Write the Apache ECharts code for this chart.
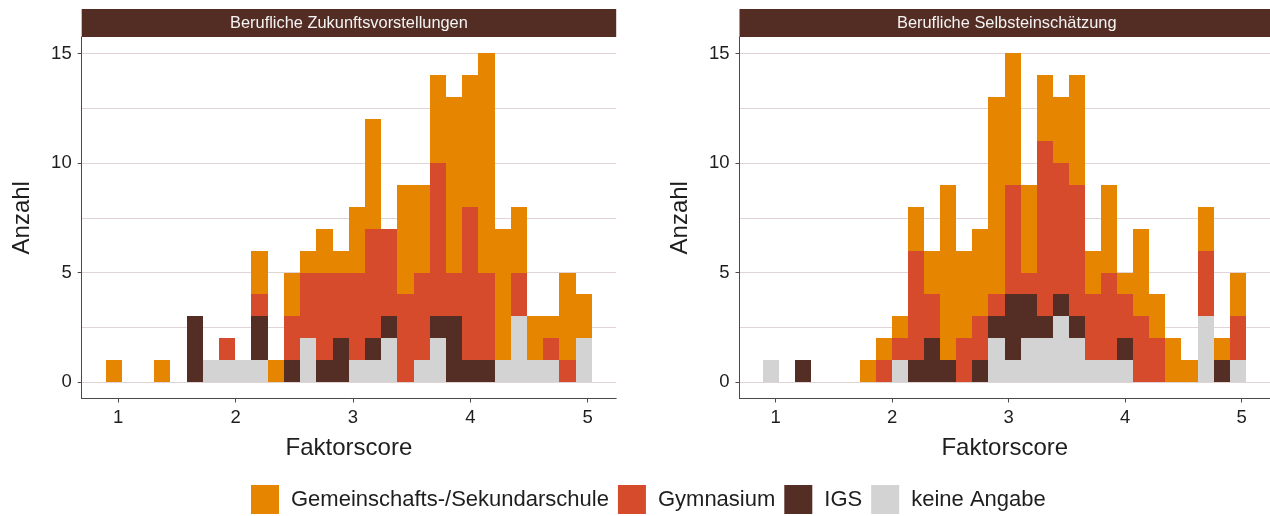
<!DOCTYPE html>
<html>
<head>
<meta charset="utf-8">
<script src="https://cdn.jsdelivr.net/npm/echarts@6/dist/echarts.min.js"></script>
<style>
  html, body { margin: 0; padding: 0; background: #ffffff; }
  #chart { width: 1270px; height: 516px; }
</style>
</head>
<body>
<div id="chart"></div>
<script>
// Shared histogram bins: 30 bins, same breaks in both panels
const binStart = 0.8925;
const binWidth = 0.1381;
const xTicks = [1, 2, 3, 4, 5];
const yTicks = [0, 5, 10, 15];
const gridValues = [0, 2.5, 5, 7.5, 10, 12.5, 15];

const schoolTypes = ['Gemeinschafts-/Sekundarschule', 'Gymnasium', 'IGS', 'keine Angabe'];
const panelTitles = ['Berufliche Zukunftsvorstellungen', 'Berufliche Selbsteinschätzung'];

// Counts per bin – Berufliche Zukunftsvorstellungen
const zukunftKeineAngabe = [0,0,0,0,0,0,1,1,1,1,0,0,2,0,0,1,1,2,0,1,2,0,0,0,1,3,1,1,0,2];
const zukunftIGS         = [0,0,0,0,0,3,0,0,0,2,0,1,0,1,2,0,1,1,0,0,1,3,1,1,0,0,0,0,0,0];
const zukunftGymnasium   = [0,0,0,0,0,0,0,1,0,1,0,2,3,4,3,4,5,4,4,4,7,2,7,4,0,2,0,1,1,0];
const zukunftGemSek      = [1,0,0,1,0,0,0,0,0,2,1,2,1,2,1,3,5,0,5,4,4,8,6,10,6,3,2,1,4,2];

// Counts per bin – Berufliche Selbsteinschätzung
const selbstKeineAngabe  = [1,0,0,0,0,0,0,0,1,0,0,0,0,0,2,1,2,2,3,2,1,1,1,0,0,0,0,3,0,1];
const selbstIGS          = [0,0,1,0,0,0,0,0,0,1,2,1,0,1,1,3,2,1,1,1,0,0,1,0,0,0,0,0,1,0];
const selbstGymnasium    = [0,0,0,0,0,0,0,1,1,5,2,0,2,2,1,5,1,8,6,6,3,4,2,3,2,0,0,3,0,2];
const selbstGemSek       = [0,0,0,0,0,0,1,1,1,2,2,8,4,4,9,6,4,3,3,5,2,4,1,4,2,2,1,2,1,2];

const colors = {
  'Gemeinschafts-/Sekundarschule': '#E68600',
  'Gymnasium': '#D64B2B',
  'IGS': '#542D24',
  'keine Angabe': '#D3D3D3'
};

// stacking order from the baseline upwards
const panels = [
  { 'keine Angabe': zukunftKeineAngabe, 'IGS': zukunftIGS, 'Gymnasium': zukunftGymnasium, 'Gemeinschafts-/Sekundarschule': zukunftGemSek },
  { 'keine Angabe': selbstKeineAngabe, 'IGS': selbstIGS, 'Gymnasium': selbstGymnasium, 'Gemeinschafts-/Sekundarschule': selbstGemSek }
];
const stackOrder = ['keine Angabe', 'IGS', 'Gymnasium', 'Gemeinschafts-/Sekundarschule'];

const gridLefts = [81.7, 739.5];
const gridWidth = 534.5;
const gridTop = 37;
const gridHeight = 361.5;
const xMin = 0.689, xMax = 5.243;
const yMin = -0.75, yMax = 15.75;

// one rectangle per stacked segment, snapped to whole pixels so neighbouring bins meet without seams
function renderBar(params, api) {
  const p0 = api.coord([api.value(0), api.value(3)]);
  const p1 = api.coord([api.value(1), api.value(2)]);
  const x0 = Math.round(p0[0]), x1 = Math.round(p1[0]);
  const y0 = Math.round(p0[1]), y1 = Math.round(p1[1]);
  return {
    type: 'rect',
    shape: { x: x0, y: y0, width: x1 - x0, height: y1 - y0 },
    style: { fill: api.visual('color') }
  };
}

const series = [];
panels.forEach(function (panel, pi) {
  // horizontal grid lines behind the bars
  series.push({
    type: 'line',
    xAxisIndex: pi, yAxisIndex: pi,
    data: [],
    z: 0,
    silent: true,
    markLine: {
      z: 0,
      silent: true,
      symbol: ['none', 'none'],
      label: { show: false },
      lineStyle: { color: '#E2D4D4', width: 1.2, type: 'solid' },
      emphasis: { disabled: true },
      animation: false,
      data: gridValues.map(function (v) { return { yAxis: v }; })
    }
  });
  const base = new Array(30).fill(0);
  stackOrder.forEach(function (name) {
    const counts = panel[name];
    const data = [];
    counts.forEach(function (c, k) {
      if (c > 0) {
        const x0 = binStart + k * binWidth;
        data.push([x0, x0 + binWidth, base[k], base[k] + c]);
      }
      base[k] += c;
    });
    series.push({
      type: 'custom',
      name: name,
      xAxisIndex: pi, yAxisIndex: pi,
      z: 3,
      renderItem: renderBar,
      itemStyle: { color: colors[name] },
      encode: { x: [0, 1], y: [2, 3] },
      data: data
    });
  });
});

const axisColor = '#4A4A4A';
const labelColor = '#1E1E1E';
const font = '"Liberation Sans", Arial, sans-serif';

const xAxes = [0, 1].map(function (pi) {
  return {
    type: 'value', gridIndex: pi, min: xMin, max: xMax,
    name: 'Faktorscore', nameLocation: 'middle', nameGap: 38,
    nameTextStyle: { fontSize: 24, color: labelColor, fontFamily: font },
    axisLine: { show: true, onZero: false, lineStyle: { color: axisColor, width: 1 } },
    axisTick: { show: true, customValues: xTicks, length: 4, lineStyle: { color: axisColor } },
    axisLabel: { customValues: xTicks, fontSize: 18.5, color: labelColor, fontFamily: font, margin: 10 },
    splitLine: { show: false }
  };
});
const yAxes = [0, 1].map(function (pi) {
  return {
    type: 'value', gridIndex: pi, min: yMin, max: yMax,
    name: 'Anzahl', nameLocation: 'middle', nameGap: 47, nameRotate: 90,
    nameTextStyle: { fontSize: 24, color: labelColor, fontFamily: font },
    axisLine: { show: true, onZero: false, lineStyle: { color: axisColor, width: 1 } },
    axisTick: { show: true, customValues: yTicks, length: 4, lineStyle: { color: axisColor } },
    axisLabel: { customValues: yTicks, fontSize: 18.5, color: labelColor, fontFamily: font, margin: 10 },
    splitLine: { show: false }
  };
});

const graphics = [];
panelTitles.forEach(function (t, pi) {
  graphics.push({
    type: 'rect', left: gridLefts[pi], top: 9,
    shape: { width: gridWidth, height: 28 },
    style: { fill: '#532C24' }, z: 10
  });
  graphics.push({
    type: 'text', x: gridLefts[pi] + gridWidth / 2, y: 23, z: 11,
    style: { text: t, fill: '#F4F4F4', fontSize: 16.4, fontFamily: font, align: 'center', verticalAlign: 'middle' }
  });
});

const chart = echarts.init(document.getElementById('chart'), null, { renderer: 'canvas' });
chart.setOption({
  animation: false,
  backgroundColor: '#ffffff',
  textStyle: { fontFamily: font },
  grid: gridLefts.map(function (l) {
    return { left: l, top: gridTop, width: gridWidth, height: gridHeight, containLabel: false };
  }),
  xAxis: xAxes,
  yAxis: yAxes,
  legend: {
    data: schoolTypes,
    left: 251, top: 485,
    padding: 0,
    icon: 'rect',
    itemWidth: 28, itemHeight: 29,
    itemGap: 9,
    textStyle: { fontSize: 22, color: labelColor, fontFamily: font, padding: [0, 0, 0, 7] },
    selectedMode: false
  },
  graphic: graphics,
  series: series
});
</script>
</body>
</html>
